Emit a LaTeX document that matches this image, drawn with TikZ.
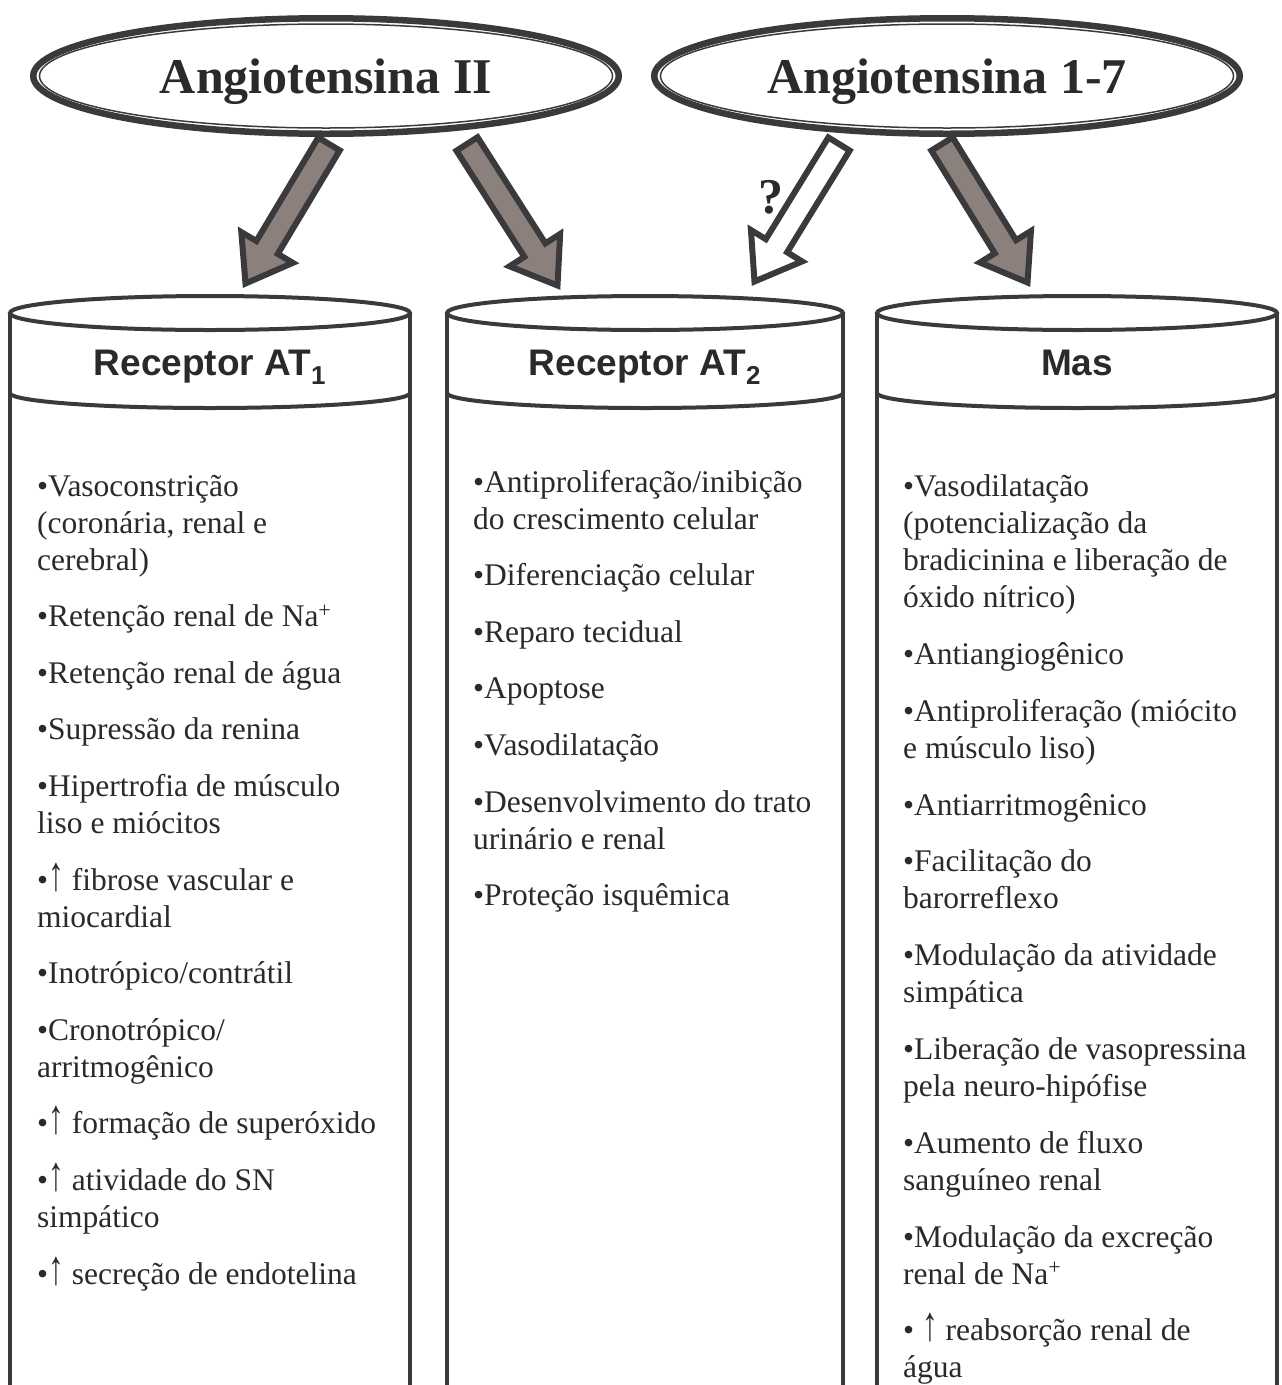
\documentclass[tikz,border=0pt]{standalone}
\usepackage{fontspec}
\usepackage{graphicx}
\setmainfont{Liberation Serif}
\newfontfamily\hsans{Liberation Sans}
\usetikzlibrary{calc,shapes.geometric}
\definecolor{ink}{RGB}{58,58,60}
\definecolor{txt}{RGB}{42,42,44}
\definecolor{afill}{RGB}{140,128,125}
\newcommand\uparr{\scalebox{1}[1.55]{↑}}
\tikzset{
  ellnode/.style={ellipse, draw=ink, line width=6.5pt, fill=white, minimum width=585.5pt, minimum height=115.5pt, inner sep=0pt},
  ttl/.style={font=\bfseries\fontsize{50}{55}\selectfont, text=txt, inner sep=0pt},
  cyl/.style={draw=ink, line width=4pt},
  hdr/.style={font=\hsans\bfseries\fontsize{37}{40}\selectfont, text=txt, inner sep=0pt},
  body/.style={font=\fontsize{31.5}{37}\selectfont, text=txt, align=left, inner sep=0pt, anchor=north west},
  blk/.style={draw=ink, line width=6pt, line join=miter, miter limit=10},
}
\newcommand\blockarrow[3]{%
  \coordinate (hb) at ($(#2)!42pt!(#1)$);
  \draw[blk, fill=#3] ($(#1)!12.5pt!90:(#2)$) -- ($(hb)!12.5pt!90:(#2)$) -- ($(hb)!30pt!90:(#2)$)
    -- (#2) -- ($(hb)!30pt!-90:(#2)$) -- ($(hb)!12.5pt!-90:(#2)$) -- ($(#1)!12.5pt!-90:(#2)$) -- cycle;
}
\begin{document}
\begin{tikzpicture}[x=1pt,y=-1pt]
\useasboundingbox (0,0) rectangle (1282,1385);
\clip (0,0) rectangle (1282,1385);
\fill[white] (0,0) rectangle (1282,1385);

% cylinders
\foreach \cx/\hw in {210/200, 645/198, 1077/200} {
  \draw[cyl] (\cx-\hw,1392) -- (\cx-\hw,313) (\cx+\hw,313) -- (\cx+\hw,1392);
  \draw[cyl] (\cx,313) ellipse [x radius=\hw, y radius=17];
  \draw[cyl] (\cx-\hw,393) .. controls (\cx-\hw,401.3) and (\cx-0.5523*\hw,408) .. (\cx,408)
    .. controls (\cx+0.5523*\hw,408) and (\cx+\hw,401.3) .. (\cx+\hw,393);
}
\node[hdr, anchor=base] (h1) at (210,375) {Receptor AT\textsubscript{1}};
\node[hdr, anchor=base] (h2) at (645,375) {Receptor AT\textsubscript{2}};
\node[hdr, anchor=base] (h3) at (1077,375) {Mas};

% title ellipses
\node[ellnode] (e1) at (326,76) {};
\draw[ink, line width=1.5pt] (e1.center) ellipse [x radius=286.5, y radius=52];
\node[ttl, anchor=base] (t1) at (326,93) {Angiotensina II};
\node[ellnode] (e2) at (947,76) {};
\draw[ink, line width=1.5pt] (e2.center) ellipse [x radius=286.5, y radius=52];
\node[ttl, anchor=base] (t2) at (947,93) {Angiotensina 1-7};

% block arrows
\coordinate (a1s) at (329,144);  \coordinate (a1t) at (245.5,283.5);
\coordinate (a2s) at (467,144);  \coordinate (a2t) at (557.5,285.5);
\coordinate (a3s) at (839,144);  \coordinate (a3t) at (754.5,281.5);
\coordinate (a4s) at (942,144);  \coordinate (a4t) at (1027.5,282.5);
\blockarrow{a1s}{a1t}{afill}
\blockarrow{a2s}{a2t}{afill}
\blockarrow{a3s}{a3t}{white}
\blockarrow{a4s}{a4t}{afill}
\node[font=\bfseries\fontsize{50}{50}\selectfont, text=txt, inner sep=0pt, anchor=base] (q) at (771,213) {?};

% body texts
\node[body] (b1) at (37,470) {\strut•Vasoconstrição\\
(coronária, renal e\\
cerebral)\\[19.6pt]
•Retenção renal de Na\textsuperscript{+}\\[19.6pt]
•Retenção renal de água\\[19.6pt]
•Supressão da renina\\[19.6pt]
•Hipertrofia de músculo\\
liso e miócitos\\[19.6pt]
•\uparr{} fibrose vascular e\\
miocardial\\[19.6pt]
•Inotrópico/contrátil\\[19.6pt]
•Cronotrópico/\\
arritmogênico\\[19.6pt]
•\uparr{} formação de superóxido\\[19.6pt]
•\uparr{} atividade do SN\\
simpático\\[19.6pt]
•\uparr{} secreção de endotelina};

\node[body] (b2) at (473,466) {\strut•Antiproliferação/inibição\\
do crescimento celular\\[19.6pt]
•Diferenciação celular\\[19.6pt]
•Reparo tecidual\\[19.6pt]
•Apoptose\\[19.6pt]
•Vasodilatação\\[19.6pt]
•Desenvolvimento do trato\\
urinário e renal\\[19.6pt]
•Proteção isquêmica};

\node[body] (b3) at (903,470.5) {\strut•Vasodilatação\\
(potencialização da\\
bradicinina e liberação de\\
óxido nítrico)\\[19.8pt]
•Antiangiogênico\\[19.8pt]
•Antiproliferação (miócito\\
e músculo liso)\\[19.8pt]
•Antiarritmogênico\\[19.8pt]
•Facilitação do\\
barorreflexo\\[19.8pt]
•Modulação da atividade\\
simpática\\[19.8pt]
•Liberação de vasopressina\\
pela neuro-hipófise\\[19.8pt]
•Aumento de fluxo\\
sanguíneo renal\\[19.8pt]
•Modulação da excreção\\
renal de Na\textsuperscript{+}\\[19.8pt]
• \uparr{} reabsorção renal de\\
água};
\end{tikzpicture}
\end{document}
